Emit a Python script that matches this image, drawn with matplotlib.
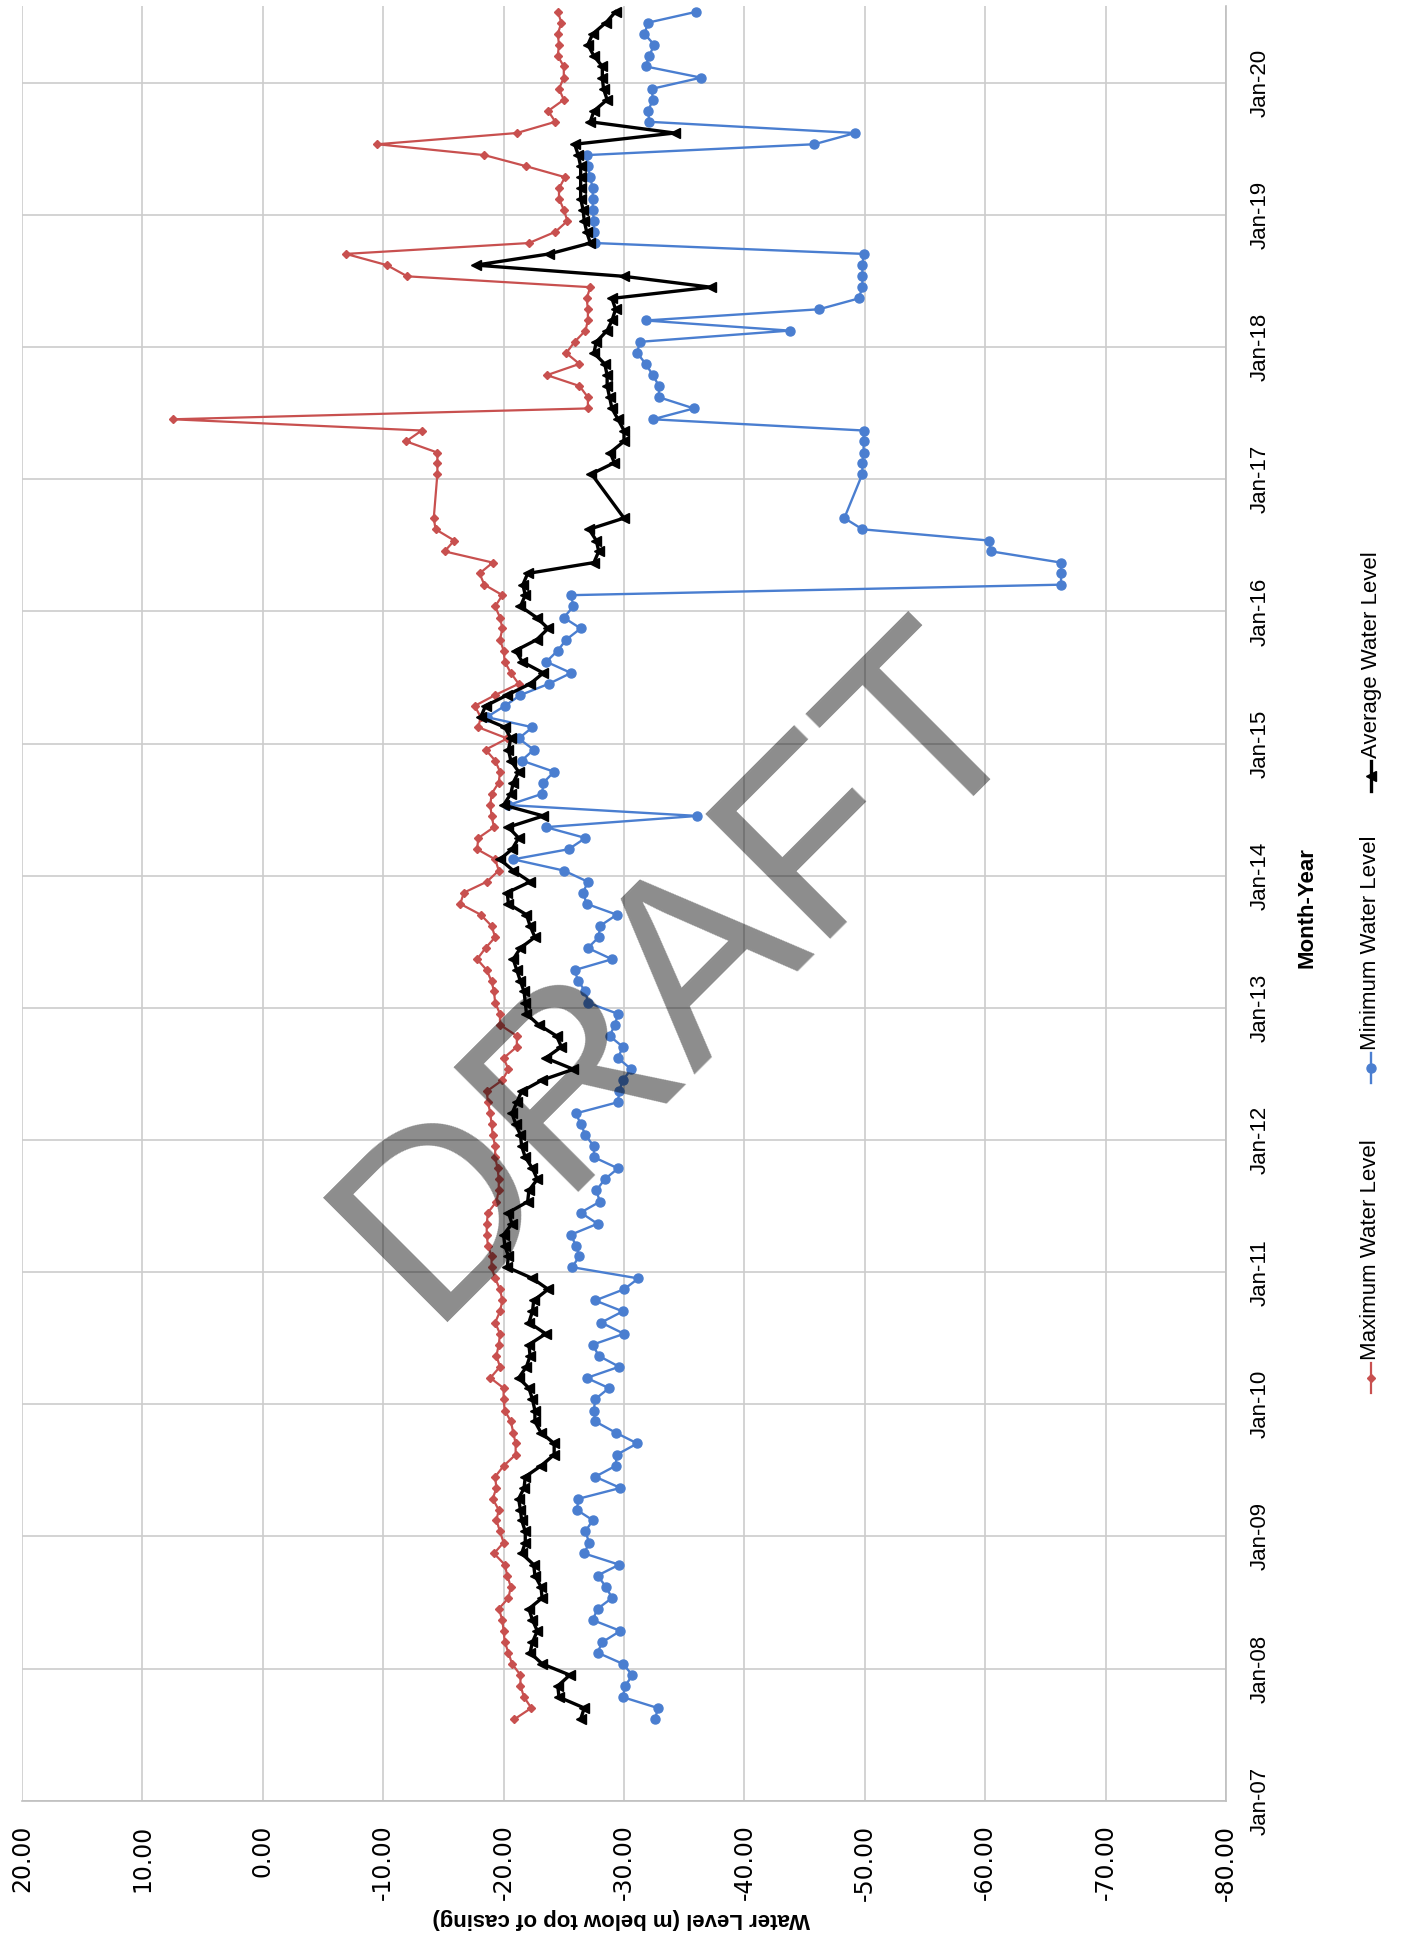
import numpy as np
import pandas as pd
import matplotlib
matplotlib.use("Agg")
import matplotlib.pyplot as plt
from matplotlib.lines import Line2D
import matplotlib.dates as mdates

plt.rcParams['font.family'] = ['Liberation Sans', 'DejaVu Sans']

# monthly readings, Aug-2007 .. Jul-2020 (mid-month), Oct-Dec 2016 not recorded
dates = pd.date_range('2007-08-01', '2020-07-01', freq='MS') + pd.Timedelta(days=14)
nan = np.nan

max_level = [
    -20.9, -22.3, -21.7, -21.4, -21.4,
    -20.7, -20.4, -20.1, -20.0, -19.9, -19.6, -20.4, -20.6, -20.3, -20.1, -19.2, -20.0,
    -19.7, -19.4, -19.6, -19.1, -19.4, -19.3, -20.0, -21.0, -21.0, -20.8, -20.6, -20.1,
    -20.0, -20.0, -18.9, -19.7, -19.4, -19.6, -19.7, -19.3, -19.7, -19.9, -19.7, -19.3,
    -19.0, -19.0, -18.7, -18.6, -18.6, -18.7, -19.4, -19.6, -19.6, -19.5, -19.3, -19.3,
    -19.1, -19.0, -18.9, -18.7, -18.6, -19.9, -20.4, -20.0, -21.1, -21.1, -19.7, -19.7,
    -19.3, -19.2, -19.0, -18.6, -17.8, -18.5, -19.3, -19.0, -18.1, -16.4, -16.7, -18.6,
    -19.6, -19.3, -17.8, -17.9, -19.2, -19.0, -18.9, -19.0, -19.6, -19.7, -19.3, -18.5,
    -20.3, -17.9, -18.1, -17.6, -19.3, -21.25, -20.6, -20.1, -20.0, -19.7, -19.9, -19.7,
    -19.3, -19.9, -18.4, -18.0, -19.1, -15.1, -15.9, -14.35, -14.2, nan, nan, nan,
    -14.5, -14.5, -14.5, -11.9, -13.2, 7.5, -27.0, -27.0, -26.3, -23.6, -26.3, -25.2,
    -25.9, -26.8, -27.0, -27.0, -26.9, -27.2, -12.0, -10.3, -6.9, -22.1, -24.3, -25.3,
    -25.0, -24.6, -24.6, -25.1, -21.9, -18.4, -9.5, -21.1, -24.3, -23.7, -25.0, -24.6,
    -25.0, -25.0, -24.5, -24.6, -24.5, -24.8, -24.5,
]

min_level = [
    -32.6, -32.8, -29.9, -30.1, -30.7,
    -29.9, -27.8, -28.2, -29.7, -27.4, -27.8, -29.0, -28.5, -27.8, -29.6, -26.7, -27.1,
    -26.8, -27.4, -26.1, -26.2, -29.7, -27.6, -29.3, -29.4, -31.1, -29.3, -27.6, -27.5,
    -27.6, -28.75, -26.9, -29.6, -27.9, -27.4, -30.0, -28.1, -29.9, -27.6, -30.0, -31.2,
    -25.7, -26.3, -26.0, -25.6, -27.8, -26.4, -28.0, -27.7, -28.4, -29.5, -27.5, -27.5,
    -26.8, -26.4, -26.0, -29.5, -29.6, -29.9, -30.6, -29.5, -29.9, -28.8, -29.25, -29.5,
    -27.0, -26.8, -26.2, -25.9, -29.0, -27.0, -27.9, -28.0, -29.4, -26.9, -26.6, -27.0,
    -25.0, -20.8, -25.4, -26.8, -23.5, -36.1, -20.4, -23.2, -23.3, -24.2, -21.5, -22.5,
    -21.25, -22.4, -18.6, -20.1, -21.4, -23.75, -25.6, -23.55, -24.5, -25.2, -26.4, -25.0,
    -25.8, -25.6, -66.3, -66.3, -66.3, -60.5, -60.3, -49.8, -48.3, nan, nan, nan,
    -49.8, -49.8, -49.9, -49.9, -49.9, -32.4, -35.8, -32.9, -32.9, -32.4, -31.8, -31.1,
    -31.3, -43.75, -31.8, -46.2, -49.5, -49.8, -49.8, -49.8, -49.9, -27.6, -27.5, -27.5,
    -27.4, -27.4, -27.4, -27.2, -27.0, -26.9, -45.8, -49.2, -32.1, -32.0, -32.4, -32.3,
    -36.4, -31.8, -32.1, -32.5, -31.7, -32.0, -36.0,
]

avg_level = [
    -26.4, -26.7, -24.6, -24.5, -25.5,
    -23.2, -22.2, -22.4, -22.8, -22.4, -22.1, -23.2, -23.1, -22.6, -22.5, -21.5, -21.8,
    -21.8, -21.5, -21.4, -21.25, -21.7, -21.8, -23.1, -24.2, -24.2, -23.1, -22.6, -22.6,
    -22.4, -22.1, -21.25, -21.9, -22.2, -22.1, -23.5, -22.1, -22.4, -22.5, -23.7, -22.4,
    -20.3, -20.4, -20.1, -20.0, -20.7, -20.4, -22.0, -22.1, -22.8, -22.4, -21.8, -21.5,
    -21.4, -21.0, -20.7, -21.1, -21.5, -23.2, -25.8, -23.5, -24.8, -24.4, -22.9, -21.9,
    -21.8, -21.7, -21.4, -21.1, -20.8, -21.4, -22.6, -22.2, -21.9, -20.4, -20.3, -22.2,
    -20.8, -19.7, -20.7, -21.25, -20.4, -23.3, -20.0, -20.6, -20.8, -21.25, -20.6, -20.4,
    -20.6, -20.1, -18.1, -18.5, -20.3, -22.2, -23.3, -21.55, -21.0, -22.75, -23.7, -22.75,
    -21.4, -21.8, -21.6, -22.0, -27.5, -27.9, -27.7, -27.1, -30.0, nan, nan, nan,
    -27.3, -29.2, -28.85, -30.0, -30.0, -29.5, -29.0, -28.8, -28.6, -28.6, -28.4, -27.5,
    -27.7, -28.6, -29.0, -29.3, -29.0, -37.2, -30.0, -17.7, -23.8, -27.2, -26.9, -26.7,
    -26.6, -26.4, -26.4, -26.4, -26.4, -26.2, -25.9, -34.2, -27.2, -27.5, -28.6, -28.3,
    -28.2, -28.2, -27.5, -27.0, -27.4, -28.5, -29.3,
]

series_names = ['Maximum Water Level', 'Minimum Water Level', 'Average Water Level']
level_ticks = np.arange(20, -90, -10)
year_ticks = pd.date_range('2007-01-01', '2020-01-01', freq='YS')

RED = '#c8504f'
BLUE = '#4a7ed0'
BLACK = '#000000'
GRID = '#cccccc'

W, H = 1401, 1938
fig = plt.figure(figsize=(W / 100, H / 100), dpi=100)
# page is turned 90 degrees: water level runs left->right, time runs bottom->top
ax = fig.add_axes([22 / W, 1 - 1801 / H, 1204 / W, 1795 / H])

styles = [
    dict(color=RED, lw=1.6, marker='D', ms=4.2),
    dict(color=BLUE, lw=1.7, marker='o', ms=6.5),
    dict(color=BLACK, lw=2.4, marker='<', ms=6.5),
]
for vals, st in zip([max_level, min_level, avg_level], styles):
    s = pd.Series(vals, index=dates).dropna()
    ax.plot(s.values, s.index, **st)

ax.set_xlim(20, -80)
ax.set_ylim(pd.Timestamp('2007-01-01'), pd.Timestamp('2020-07-31'))
ax.set_xticks(level_ticks)
ax.set_xticklabels(['%.2f' % v for v in level_ticks], rotation=90,
                   fontsize=17, family='DejaVu Sans')
ax.set_yticks(year_ticks)
ax.yaxis.set_major_formatter(mdates.DateFormatter('%b-%y'))
ax.yaxis.tick_right()
ax.tick_params(axis='x', length=0, pad=17)
ax.tick_params(axis='y', length=0, pad=17, labelsize=16)
for lab in ax.get_yticklabels():
    lab.set_rotation(90)
    lab.set_va('center')

ax.grid(True, color=GRID, lw=1.2)
for sp in ['top', 'left']:
    ax.spines[sp].set_visible(False)
for sp in ['bottom', 'right']:
    ax.spines[sp].set_color('#bfbfbf')
    ax.spines[sp].set_linewidth(1.2)

ax.set_xlabel('Water Level (m below top of casing)', fontsize=16,
              fontweight='bold', rotation=180, ha='center', va='center')
ax.xaxis.set_label_coords(0.4975, (1801 - 1918) / 1795)
ax.set_ylabel('Month-Year', fontsize=16, fontweight='bold', rotation=90,
              ha='center', va='center')
ax.yaxis.set_label_position('right')
ax.yaxis.set_label_coords((1296 - 22) / 1204, (1801 - 908) / 1795)

# legend, turned with the page
legend_pos = [1378, 1068, 776]   # marker centre, pixels from top
for name, st, yc in zip(series_names, styles, legend_pos):
    x = 1371 / W
    fig.add_artist(Line2D([x, x], [1 - (yc + 15) / H, 1 - (yc - 15) / H],
                          transform=fig.transFigure, color=st['color'], lw=st['lw']))
    fig.add_artist(Line2D([x], [1 - yc / H], transform=fig.transFigure,
                          color=st['color'], marker=st['marker'], ms=st['ms']))
    fig.text(x, 1 - (yc - 18) / H, name, rotation=90, ha='center', va='bottom',
             fontsize=16)

fig.text(682 / W, 1 - 972 / H, 'DRAFT', rotation=45, fontsize=185,
         color='black', alpha=0.45, ha='center', va='center')

fig.savefig('out.png', dpi=100)
